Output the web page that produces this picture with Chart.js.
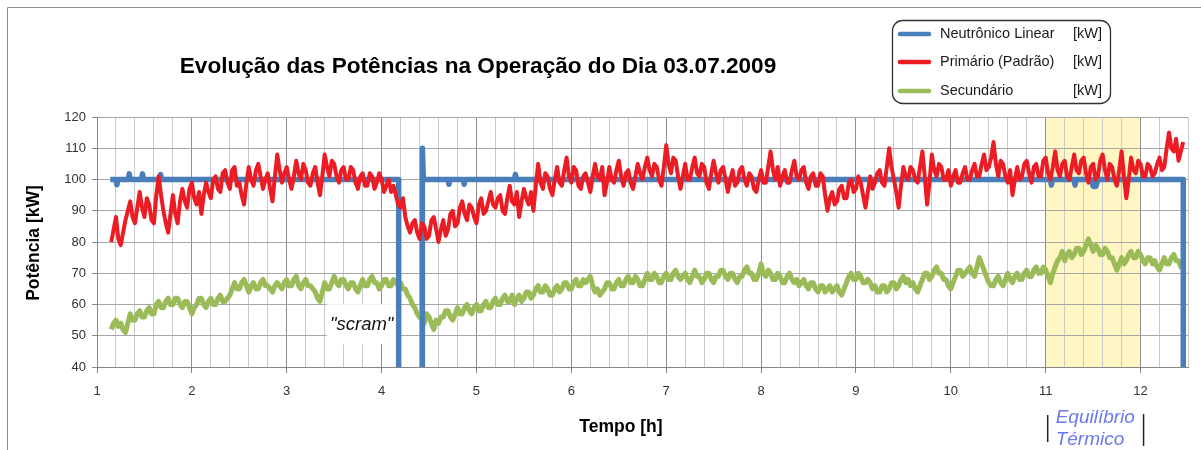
<!DOCTYPE html>
<html><head><meta charset="utf-8">
<script src="https://cdn.jsdelivr.net/npm/chart.js@4.4.1/dist/chart.umd.min.js"></script>
<style>html,body{margin:0;padding:0;background:#fff;}canvas{display:block;}</style>
</head><body>
<canvas id="c" width="1201" height="450"></canvas>
<script>
// ---- data (time in hours, power in kW) ----
const timeH = [
 1.15,1.175,1.2,1.225,1.25,1.275,1.3,1.325,1.35,1.375,1.4,1.425,1.45,1.475,1.5,1.525,1.55,1.575,1.6,1.625,1.65,1.675,1.7,1.725,1.75,1.775,1.8,1.825,1.85,1.875,1.9,1.925,1.95,1.975,2,2.025,2.05,2.075,2.1,2.125,
 2.15,2.175,2.2,2.225,2.25,2.275,2.3,2.325,2.35,2.375,2.4,2.425,2.45,2.475,2.5,2.525,2.55,2.575,2.6,2.625,2.65,2.675,2.7,2.725,2.75,2.775,2.8,2.825,2.85,2.875,2.9,2.925,2.95,2.975,3,3.025,3.05,3.075,3.1,3.125,
 3.15,3.175,3.2,3.225,3.25,3.275,3.3,3.325,3.35,3.375,3.4,3.425,3.45,3.475,3.5,3.525,3.55,3.575,3.6,3.625,3.65,3.675,3.7,3.725,3.75,3.775,3.8,3.825,3.85,3.875,3.9,3.925,3.95,3.975,4,4.025,4.05,4.075,4.1,4.125,
 4.15,4.175,4.2,4.225,4.25,4.275,4.3,4.325,4.35,4.375,4.4,4.425,4.45,4.475,4.5,4.525,4.55,4.575,4.6,4.625,4.65,4.675,4.7,4.725,4.75,4.775,4.8,4.825,4.85,4.875,4.9,4.925,4.95,4.975,5,5.025,5.05,5.075,5.1,5.125,
 5.15,5.175,5.2,5.225,5.25,5.275,5.3,5.325,5.35,5.375,5.4,5.425,5.45,5.475,5.5,5.525,5.55,5.575,5.6,5.625,5.65,5.675,5.7,5.725,5.75,5.775,5.8,5.825,5.85,5.875,5.9,5.925,5.95,5.975,6,6.025,6.05,6.075,6.1,6.125,
 6.15,6.175,6.2,6.225,6.25,6.275,6.3,6.325,6.35,6.375,6.4,6.425,6.45,6.475,6.5,6.525,6.55,6.575,6.6,6.625,6.65,6.675,6.7,6.725,6.75,6.775,6.8,6.825,6.85,6.875,6.9,6.925,6.95,6.975,7,7.025,7.05,7.075,7.1,7.125,
 7.15,7.175,7.2,7.225,7.25,7.275,7.3,7.325,7.35,7.375,7.4,7.425,7.45,7.475,7.5,7.525,7.55,7.575,7.6,7.625,7.65,7.675,7.7,7.725,7.75,7.775,7.8,7.825,7.85,7.875,7.9,7.925,7.95,7.975,8,8.025,8.05,8.075,8.1,8.125,
 8.15,8.175,8.2,8.225,8.25,8.275,8.3,8.325,8.35,8.375,8.4,8.425,8.45,8.475,8.5,8.525,8.55,8.575,8.6,8.625,8.65,8.675,8.7,8.725,8.75,8.775,8.8,8.825,8.85,8.875,8.9,8.925,8.95,8.975,9,9.025,9.05,9.075,9.1,9.125,
 9.15,9.175,9.2,9.225,9.25,9.275,9.3,9.325,9.35,9.375,9.4,9.425,9.45,9.475,9.5,9.525,9.55,9.575,9.6,9.625,9.65,9.675,9.7,9.725,9.75,9.775,9.8,9.825,9.85,9.875,9.9,9.925,9.95,9.975,10,10.025,10.05,10.075,10.1,10.125,
 10.15,10.175,10.2,10.225,10.25,10.275,10.3,10.325,10.35,10.375,10.4,10.425,10.45,10.475,10.5,10.525,10.55,10.575,10.6,10.625,10.65,10.675,10.7,10.725,10.75,10.775,10.8,10.825,10.85,10.875,10.9,10.925,10.95,10.975,11,11.025,11.05,11.075,11.1,11.125,
 11.15,11.175,11.2,11.225,11.25,11.275,11.3,11.325,11.35,11.375,11.4,11.425,11.45,11.475,11.5,11.525,11.55,11.575,11.6,11.625,11.65,11.675,11.7,11.725,11.75,11.775,11.8,11.825,11.85,11.875,11.9,11.925,11.95,11.975,12,12.025,12.05,12.075,12.1,12.125,
 12.15,12.175,12.2,12.225,12.25,12.275,12.3,12.325,12.35,12.375,12.4,12.425,12.45
];
const primario = [
 80,84,88,81,79,83,87,90,93,88,86,91,96,91,88,94,92,87,86,95,101,95,90,86,83,89,95,89,86,93,97,93,91,97,99,94,92,96,89,95,
 99,96,94,100,101,97,96,102,103,99,97,103,104,98,99,95,92,99,104,100,98,103,105,101,97,100,102,97,93,101,108,103,99,102,104,100,97,101,106,102,
 100,105,103,99,98,102,104,99,95,101,108,104,101,106,105,101,99,103,104,100,100,104,103,99,97,101,102,98,98,102,101,97,99,102,100,96,98,100,96,98,
 95,92,91,94,88,85,83,86,87,83,81,86,85,81,82,87,88,84,80,84,87,82,84,89,90,85,86,91,93,89,87,92,91,88,86,92,94,89,90,93,
 96,92,91,94,95,90,89,94,98,93,92,96,88,93,97,94,92,96,90,98,105,99,97,102,101,97,95,100,104,99,98,103,107,101,99,104,103,98,97,101,
 102,99,96,101,105,101,100,104,95,99,104,100,99,103,106,101,98,102,103,99,97,101,105,102,100,104,107,103,101,105,104,100,98,104,111,105,102,107,106,101,
 97,101,105,100,100,104,107,102,101,105,104,99,97,102,106,102,99,103,104,100,96,100,103,98,99,103,104,100,98,102,101,97,96,100,103,99,99,104,109,103,
 100,104,98,101,103,99,99,103,106,101,100,103,104,99,97,101,102,98,98,102,101,95,90,94,96,92,93,97,98,94,94,99,100,96,97,101,99,95,91,96,
 101,97,99,102,103,99,98,104,110,104,100,96,91,98,104,101,100,104,103,100,99,104,109,101,92,99,108,103,101,105,104,100,100,103,98,101,103,99,99,102,
 104,100,100,103,105,101,101,105,108,103,104,107,112,105,101,106,105,101,99,103,95,100,104,100,101,105,106,102,99,104,105,101,101,106,107,102,100,104,109,103,
 101,105,106,101,100,104,108,103,102,106,107,102,99,104,105,100,101,106,108,103,100,105,104,100,98,103,109,101,94,100,107,103,102,106,105,101,101,105,104,101,
 102,105,107,103,104,110,115,110,109,113,106,109,112
];
const secundario = [
 52,54,55,53,54,52,51,54,57,55,55,57,58,56,56,58,59,57,57,60,61,59,59,61,62,60,60,62,62,60,59,61,61,59,57,59,60,62,62,60,
 59,61,62,60,60,62,63,61,61,62,63,65,67,65,65,67,68,66,64,66,67,65,65,67,68,66,66,65,64,66,67,66,65,67,68,66,66,68,69,66,
 65,67,68,66,66,65,64,62,61,64,67,65,65,67,69,67,66,68,68,66,65,67,67,65,64,66,68,66,66,68,69,67,67,65,66,68,68,66,66,68,
 67,66,67,65,65,63,62,60,59,57,56,55,54,57,56,54,52,55,54,56,56,58,58,56,55,57,59,57,57,59,60,58,57,59,60,58,58,60,61,59,
 59,61,62,60,60,62,63,61,61,63,60,62,63,61,62,64,64,62,63,65,66,64,64,66,65,63,63,65,66,64,65,67,67,65,65,67,68,66,66,68,
 67,68,69,66,64,65,63,64,65,67,67,65,65,67,68,66,66,68,69,67,67,69,68,66,66,68,70,68,68,70,69,67,67,69,70,68,68,70,71,69,
 68,69,70,68,67,69,71,69,69,67,68,70,70,68,67,69,69,71,71,69,68,70,70,68,67,69,69,71,72,70,70,68,68,70,73,70,69,71,70,68,
 68,70,69,67,67,69,70,68,67,68,66,67,68,66,65,67,67,65,64,66,66,64,65,66,64,65,66,64,63,65,67,69,70,68,68,70,69,67,67,68,
 67,65,66,64,64,66,66,64,65,67,67,65,66,68,69,67,68,66,67,65,64,66,68,70,70,68,69,71,72,70,70,68,68,66,65,67,69,71,71,69,
 70,71,72,70,69,72,75,73,71,69,67,66,66,68,69,67,66,68,70,68,67,69,70,68,68,70,71,69,69,71,72,70,70,72,71,69,67,70,72,74,
 75,77,74,76,77,75,76,78,78,76,77,79,81,79,77,79,78,76,76,78,77,75,75,73,71,73,75,73,74,76,77,75,75,77,76,74,73,75,75,73,
 74,72,71,73,75,73,73,75,76,74,74,72,73
];
const neutronT = [1.14,1.2,1.21,1.22,1.33,1.34,1.35,1.47,1.48,1.49,1.66,1.67,1.68,4.18,4.18,4.43,4.43,4.44,4.7,4.71,4.72,4.86,4.87,4.88,5.4,5.41,5.42,11.05,11.06,11.07,11.3,11.31,11.32,11.48,11.5,11.53,11.55,12.45,12.45];
const neutronV = [100,100,98.3,100,100,101.8,100,100,101.8,100,100,101.6,100,100,20,20,110,100,100,98.5,100,100,98.5,100,100,101.6,100,100,98.2,100,100,98.2,100,100,97.8,97.8,100,100,20];

const seriesNames = ['Neutrônico Linear','Primário (Padrão)','Secundário'];
const unitLabel = '[kW]';
const chartTitle = 'Evolução das Potências na Operação do Dia 03.07.2009';
const yTitle = 'Potência [kW]';
const xTitle = 'Tempo [h]';
const scramLabel = '"scram"';
const scramAt = [3.79, 53.4];
const eqLabel = ['Equilíbrio','Térmico'];
const eqRange = [11, 12];
const xRange = [1, 12.5];
const yRange = [40, 120];

const colBlue = '#4a7ebb', colRed = '#ec1c24', colGreen = '#9bbb59';
const FF = '"Liberation Sans", Arial, sans-serif';
const isInt = v => Math.abs(v - Math.round(v)) < 1e-6;

const deco = {
  id: 'deco',
  beforeDraw(chart) {
    const {ctx, chartArea: a, scales: {x}} = chart;
    ctx.save();
    ctx.fillStyle = '#fff';
    ctx.fillRect(0, 0, chart.width, chart.height);
    const x1 = x.getPixelForValue(eqRange[0]), x2 = x.getPixelForValue(eqRange[1]);
    ctx.fillStyle = '#fff6c4';
    ctx.fillRect(x1, a.top, x2 - x1, a.bottom - a.top);
    ctx.restore();
  },
  beforeDatasetsDraw(chart) {
    const {ctx, scales: {x, y}} = chart;
    const cx = x.getPixelForValue(scramAt[0]), cy = y.getPixelForValue(scramAt[1]);
    ctx.save();
    ctx.fillStyle = '#fff';
    ctx.fillRect(cx - 35, cy - 21, 70, 40);
    ctx.font = 'italic 18.5px ' + FF;
    ctx.fillStyle = '#111';
    ctx.textAlign = 'center';
    ctx.textBaseline = 'middle';
    ctx.fillText(scramLabel, cx, cy);
    ctx.restore();
  },
  afterDraw(chart) {
    const {ctx, scales: {x}} = chart;
    ctx.save();
    ctx.strokeStyle = '#8c8c8c'; ctx.lineWidth = 1;
    ctx.beginPath(); ctx.moveTo(7.5, 450); ctx.lineTo(7.5, 7.5); ctx.lineTo(1201, 7.5); ctx.stroke();
    ctx.fillStyle = '#000';
    ctx.font = 'bold 22.6px ' + FF;
    ctx.textAlign = 'center'; ctx.textBaseline = 'alphabetic';
    ctx.fillText(chartTitle, 478, 73);
    ctx.font = 'bold 17.5px ' + FF;
    ctx.textBaseline = 'middle';
    ctx.fillText(xTitle, 621, 427);
    ctx.save(); ctx.translate(34, 243); ctx.rotate(-Math.PI / 2);
    ctx.fillText(yTitle, 0, 0); ctx.restore();
    ctx.strokeStyle = '#333'; ctx.lineWidth = 1.3;
    ctx.beginPath(); ctx.roundRect(892.5, 20.5, 218, 83, 10); ctx.stroke();
    const cols = [colBlue, colRed, colGreen];
    const rows = [34, 62, 91];
    ctx.font = '14.5px ' + FF; ctx.textAlign = 'left'; ctx.textBaseline = 'middle';
    for (let i = 0; i < 3; i++) {
      ctx.strokeStyle = cols[i]; ctx.lineWidth = 4.5; ctx.lineCap = 'round';
      ctx.beginPath(); ctx.moveTo(900, rows[i]); ctx.lineTo(929, rows[i]); ctx.stroke();
      ctx.fillStyle = '#1a1a1a';
      ctx.fillText(seriesNames[i], 940, rows[i]);
      ctx.fillText(unitLabel, 1073, rows[i]);
    }
    const e1 = x.getPixelForValue(eqRange[0]), e2 = x.getPixelForValue(eqRange[1]);
    ctx.strokeStyle = '#222'; ctx.lineWidth = 1.5; ctx.lineCap = 'butt';
    ctx.beginPath(); ctx.moveTo(e1 + 2, 415); ctx.lineTo(e1 + 2, 442); ctx.stroke();
    ctx.beginPath(); ctx.moveTo(e2 + 3, 414); ctx.lineTo(e2 + 3, 446); ctx.stroke();
    ctx.fillStyle = '#6b78f2';
    ctx.font = 'italic 19px ' + FF; ctx.textBaseline = 'alphabetic';
    ctx.fillText(eqLabel[0], e1 + 10, 423);
    ctx.fillText(eqLabel[1], e1 + 10, 445);
    ctx.restore();
  }
};

new Chart(document.getElementById('c'), {
  type: 'line',
  data: {
    datasets: [
      { label: seriesNames[0], data: neutronT.map((t, i) => ({x: t, y: neutronV[i]})), borderColor: colBlue, borderWidth: 5.5, order: 2 },
      { label: seriesNames[1], data: timeH.map((t, i) => ({x: t, y: primario[i]})), borderColor: colRed, borderWidth: 4, order: 1 },
      { label: seriesNames[2], data: timeH.map((t, i) => ({x: t, y: secundario[i]})), borderColor: colGreen, borderWidth: 5, order: 3 }
    ]
  },
  options: {
    responsive: false, animation: false, devicePixelRatio: 1,
    layout: { padding: { top: 117, right: 13, bottom: 0, left: 0 } },
    elements: { point: { radius: 0 }, line: { tension: 0, borderJoinStyle: 'round', borderCapStyle: 'butt', fill: false } },
    plugins: { legend: { display: false }, title: { display: false }, tooltip: { enabled: false } },
    scales: {
      x: {
        type: 'linear', min: xRange[0], max: xRange[1],
        afterFit: s => { s.height = 83; },
        ticks: { stepSize: 0.2, autoSkip: false, maxRotation: 0, padding: 11, color: '#333',
          font: { family: FF, size: 13 },
          callback: v => isInt(v) ? String(Math.round(v)) : '' },
        grid: { color: c => isInt(c.tick.value) ? '#8e8e8e' : '#c9c9c9', lineWidth: 1,
          tickLength: 6, tickColor: c => isInt(c.tick.value) ? '#868686' : 'rgba(0,0,0,0)' },
        border: { color: '#868686', width: 1 }
      },
      y: {
        min: yRange[0], max: yRange[1],
        afterFit: s => { s.width = 97; },
        ticks: { stepSize: 10, padding: 6, color: '#333', font: { family: FF, size: 13 } },
        grid: { color: '#a6a6a6', lineWidth: 1, tickLength: 5, tickColor: '#868686' },
        border: { color: '#868686', width: 1 }
      }
    }
  },
  plugins: [deco]
});
</script>
</body></html>
